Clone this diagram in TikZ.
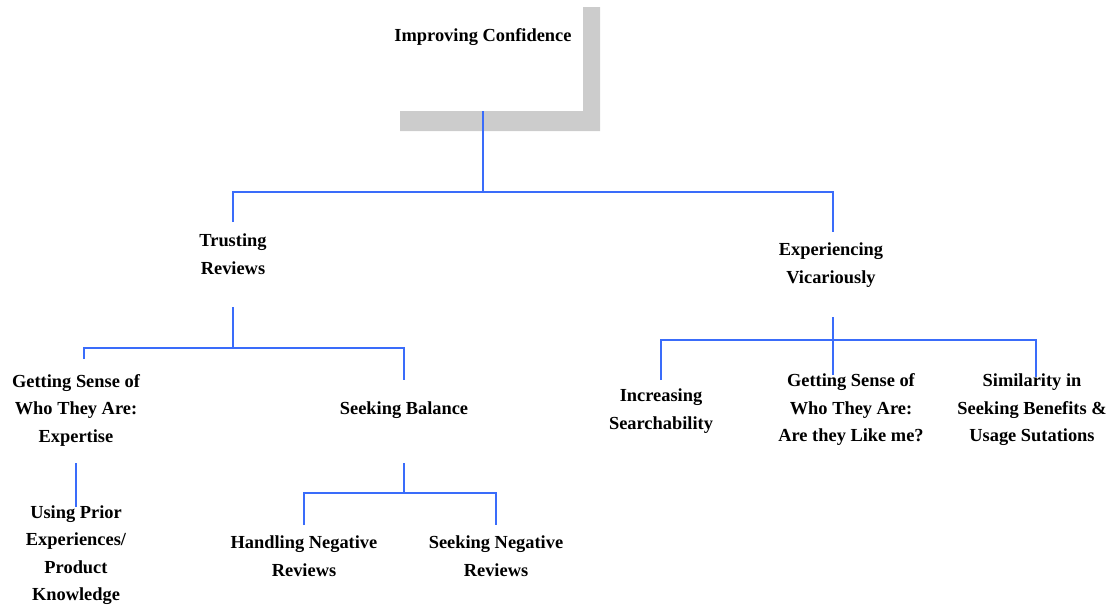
\documentclass[tikz,border=0pt]{standalone}
\usepackage{fontspec}
\setmainfont{Liberation Serif}
\usetikzlibrary{positioning}
\definecolor{linkblue}{RGB}{58,108,250}
\definecolor{bargray}{RGB}{204,204,204}

\begin{document}
\begin{tikzpicture}[x=1pt,y=-1pt,
  txt/.style={align=center,inner sep=0pt,font=\fontsize{18.4}{27.5}\selectfont\bfseries},
  link/.style={draw=linkblue,line width=1.5pt}]
\useasboundingbox (0,0) rectangle (1117,605);
% grey corner behind the title
\fill[bargray] (583,7) -- (600,7) -- (600,131) -- (400,131) -- (400,111) -- (583,111) -- cycle;

% labels
\node[txt] (root) at (483,37) {Improving Confidence};
\node[txt] (trust) at (233,254) {Trusting\\Reviews};
\node[txt] (exper) at (831,265) {Experiencing\\Vicariously};
\node[txt] (sense) at (76,410) {Getting Sense of\\Who They Are:\\Expertise};
\node[txt] (prior) at (76,555) {Using Prior\\Experiences/\\Product\\Knowledge};
\node[txt] (balance) at (404,410) {Seeking Balance};
\node[txt] (handle) at (304,556) {Handling Negative\\Reviews};
\node[txt] (seekneg) at (496,556) {Seeking Negative\\Reviews};
\node[txt] (search) at (661,411) {Increasing\\Searchability};
\node[txt] (likeme) at (851,410) {Getting Sense of\\Who They Are:\\Are they Like me?};
\node[txt] (similar) at (1032,410) {Similarity in\\Seeking Benefits \&\\Usage Sutations};

% connector ends
\coordinate (stem) at (483,111);
\coordinate (j0) at (483,192);
\coordinate (trust-in) at (233,222);
\coordinate (exper-in) at (833,232);
\coordinate (trust-out) at (233,307);
\coordinate (j1) at (233,348);
\coordinate (sense-in) at (84,359);
\coordinate (balance-in) at (404,380);
\coordinate (sense-out) at (76,463);
\coordinate (prior-in) at (76,507);
\coordinate (balance-out) at (404,463);
\coordinate (j2) at (404,493);
\coordinate (handle-in) at (304,525);
\coordinate (seekneg-in) at (496,525);
\coordinate (exper-out) at (833,317);
\coordinate (j3) at (833,340);
\coordinate (search-in) at (661,380);
\coordinate (likeme-in) at (833,375);
\coordinate (similar-in) at (1036,377);

% connectors
\draw[link] (stem) -- (j0);
\draw[link] (trust-in) |- (j0) -| (exper-in);
\draw[link] (trust-out) -- (j1);
\draw[link] (sense-in) |- (j1) -| (balance-in);
\draw[link] (sense-out) -- (prior-in);
\draw[link] (balance-out) -- (j2);
\draw[link] (handle-in) |- (j2) -| (seekneg-in);
\draw[link] (exper-out) -- (likeme-in);
\draw[link] (search-in) |- (j3) -| (similar-in);
\end{tikzpicture}
\end{document}
